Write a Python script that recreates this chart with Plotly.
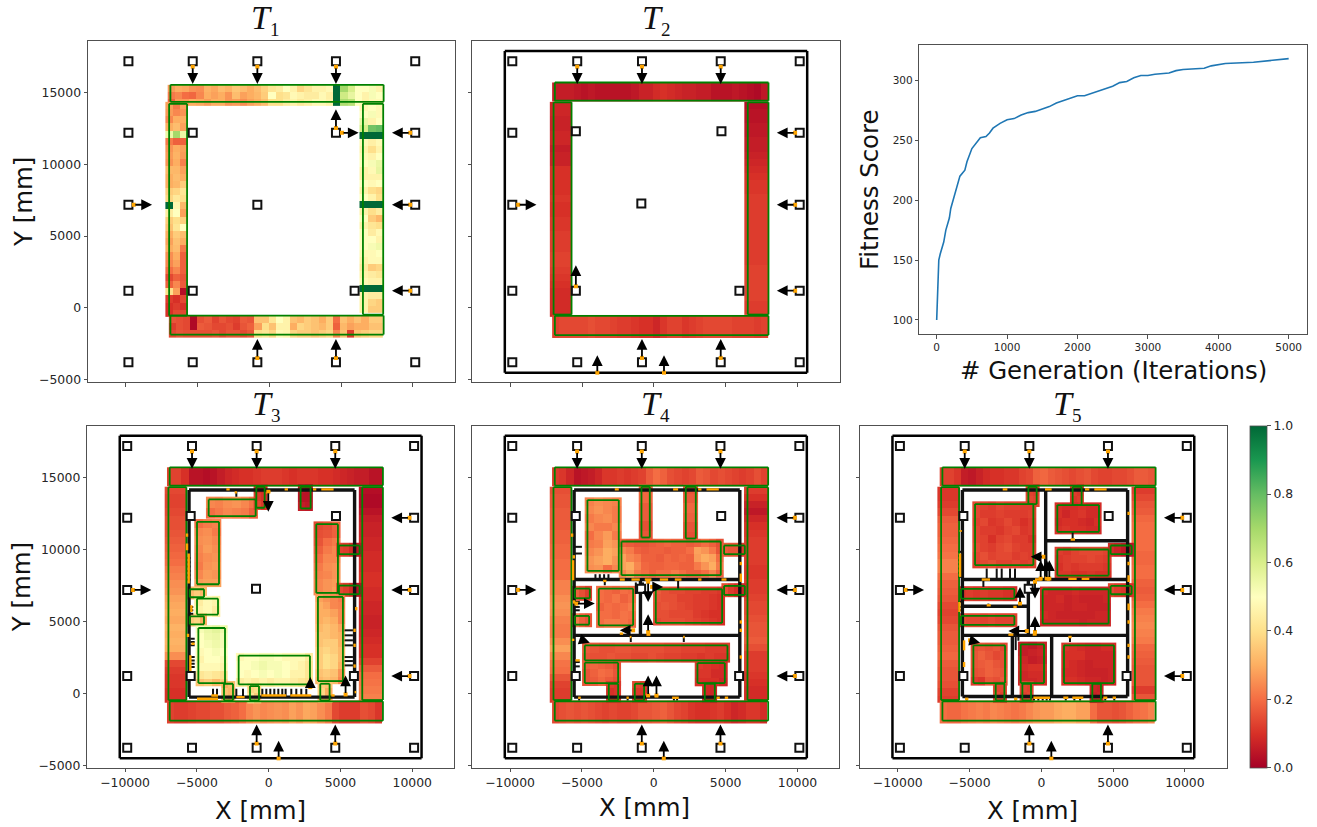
import plotly.graph_objects as go

# ---------- figure data (all positions in mm, values in percent of the colour range) ----------
W, H = 1317, 827
X_TICKS = [-10000, -5000, 0, 5000, 10000]
X_LABELS = ["\u221210000", "\u22125000", "0", "5000", "10000"]
Y_TICKS = [-5000, 0, 5000, 10000, 15000]
Y_LABELS = ["\u22125000", "0", "5000", "10000", "15000"]
FIT_XT = [0, 1000, 2000, 3000, 4000, 5000]
FIT_YT = [100, 150, 200, 250, 300]

GEN = [0, 10, 20, 30, 50, 100, 130, 180, 200, 250, 300, 330, 400, 430, 500, 550, 620, 700, 750, 800, 900, 1000,
       1100, 1200, 1300, 1400, 1500, 1600, 1700, 1800, 1900, 2000, 2100, 2200, 2300, 2400, 2500, 2600, 2700, 2800,
       2900, 3000, 3100, 3300, 3400, 3500, 3800, 3900, 4100, 4500, 4800, 5000]
FITNESS = [100, 125, 140, 150, 155, 165, 175, 185, 193, 203, 212, 220, 225, 232, 243, 247, 252, 253, 256, 260, 264, 267,
           268, 271, 273, 274, 276, 278, 281, 283, 285, 287, 287, 289, 291, 293, 295, 298, 299, 302,
           304, 304, 305, 306, 308, 309, 310, 312, 314, 315, 317, 318]

# T1 walls
T1_TOP = [[27,30,29,26,25,31,29,33,31,35,33,30,33,37,42,44,50,46,38,42,46,46,48,100,70,60,50,50,52,46],
          [22,24,20,19,24,30,28,30,26,33,28,30,32,36,50,40,42,48,46,44,44,48,45,100,62,56,50,46,52,50],
          [18,27,27,30,29,27,30,30,26,27,25,28,30,33,40,40,44,46,43,45,48,48,46,100,68,66,50,46,48,48]]
T1_LEFT = [[28,22,28],[27,24,26],[24,30,30],[30,33,28],[55,70,55],[22,18,18],[26,30,28],[27,31,27],[26,30,23],[32,32,28],
           [30,33,30],[30,32,36],[36,38,42],[38,43,40],[100,47,32],[44,50,28],[36,40,37],[34,42,50],[30,36,33],[28,34,30],
           [30,33,22],[25,30,18],[24,28,18],[20,24,18],[14,18,16],[18,24,17],[40,28,3],[12,10,14],[10,12,10],[10,14,14]]
T1_RIGHT = [[48,50,48],[50,52,48],[55,46,50],[60,78,80],[100,100,100],[48,45,48],[46,40,46],[48,46,50],[50,52,55],[46,48,56],
            [46,46,46],[50,48,50],[46,40,38],[50,46,40],[100,100,100],[46,40,44],[50,36,32],[46,42,40],[50,44,48],[50,50,46],
            [50,52,54],[48,48,50],[46,48,48],[44,36,38],[46,44,42],[48,46,46],[100,100,100],[46,44,44],[46,38,36],[46,36,36]]
T1_BOTTOM = [[16,15,14,2,15,17,13,16,14,13,17,16,34,34,42,50,46,34,32,36,34,30,36,20,34,30,34,30,36,36],
             [12,15,14,2,17,16,14,14,15,12,16,18,28,40,34,46,46,30,38,36,34,32,36,18,32,28,30,30,34,34],
             [14,16,15,15,15,15,16,14,16,16,14,16,40,42,38,48,47,38,36,36,34,36,38,24,34,12,34,36,38,38]]

# T2-T5 wall profiles along the wall
T2_TOP = [6,6,6,5,4,5,4,4,4,4,4,5,7,7,9,10,9,8,7,7,6,6,4,4,4,5,4,3,2,5]
T2_LEFT = [8,8,7,7,8,8,6,7,7,10,10,10,10,11,10,10,11,11,12,12,12,13,13,12,11,10,9,9,9,9]
T2_RIGHT = [3,4,4,5,5,6,6,7,8,9,10,11,11,12,12,12,12,12,12,12,12,12,12,13,13,13,13,13,12,12]
T2_BOTTOM = [13,14,14,14,14,15,14,14,13,12,12,11,10,10,8,11,13,13,11,12,13,14,14,14,14,13,13,13,12,13]
T3_TOP = [13,13,10,4,4,3,4,6,8,9,10,10,11,12,12,12,11,10,11,11,11,10,10,9,8,7,6,6,4,4]
T3_LEFT = [14,13,13,14,15,15,16,17,18,19,20,22,23,25,26,28,29,30,29,31,30,31,30,25,14,12,11,11,10,10]
T3_RIGHT = [3,2,2,4,6,7,7,8,8,9,9,9,10,10,9,9,8,8,7,7,8,9,10,10,13,17,20,21,22,23]
T3_BOTTOM = [13,12,12,13,14,14,15,15,17,18,20,24,26,24,25,26,25,28,26,29,28,25,22,14,12,12,12,15,14,11]
T4_TOP = [12,11,8,4,5,6,8,11,11,12,11,12,13,17,20,18,15,14,13,14,17,16,14,15,14,13,12,13,15,13]
T4_LEFT = [15,16,16,17,17,17,18,18,19,19,20,20,20,23,23,25,26,25,23,22,22,25,28,24,21,20,16,13,12,12]
T4_RIGHT = [12,10,7,5,8,10,11,12,12,12,12,11,11,12,12,13,14,14,15,16,16,17,15,12,12,12,11,10,9,9]
T4_BOTTOM = [14,15,16,15,16,15,14,13,14,13,13,14,16,16,17,18,16,14,13,11,10,10,11,12,10,8,9,11,11,9]
T5_TOP = [13,13,11,6,5,7,9,10,10,11,11,13,14,18,19,17,16,15,14,15,16,14,13,13,14,14,15,17,17,16]
T5_LEFT = [11,11,12,14,17,18,18,19,20,21,23,23,20,18,17,16,14,13,14,16,17,17,18,19,17,16,16,15,13,12]
T5_RIGHT = [12,14,16,17,19,20,20,20,20,19,19,20,20,18,17,18,20,22,23,24,23,22,19,18,17,16,16,16,12,16]
T5_BOTTOM = [20,19,19,21,22,23,22,24,23,22,21,22,24,26,27,27,29,30,30,28,28,20,16,16,15,16,18,20,21,23]

# green rectangles: top, left, right, bottom walls  [x1, x2, y1, y2]
T1_WALLS = [[-6890,7960,14350,15534],[-6980,-5730,-544,14211],[6520,7930,-474,14211],[-6890,7960,-1866,-544]]
WALLS = [[-6890,7960,14430,15700],[-6980,-5730,-470,14320],[6520,7960,-470,14320],[-6890,7960,-1900,-560]]
# coloured extents of the same walls
T1_HEAT = [[-7080,7960,14070,15534],[-7240,-5730,-640,14350],[6280,7930,-380,14211],[-7000,7911,-2100,-544]]
HEAT = [[-7080,7960,14400,15700],[-7240,-5730,-640,14350],[6280,7960,-500,14350],[-7080,7911,-2100,-500]]

T3_RECTS = [[-4176,-905,12309,13469],[-858,-278,12889,14350],[2227,2923,12842,14350],[-4988,-3457,7576,11914],
            [3318,4826,6973,11752],[4895,6334,9664,10267],[4895,6334,6880,7483],[-5498,-4501,6671,7228],
            [-4988,-3526,5465,6578],[-5498,-4501,4792,5349],[-4895,-3039,709,4537],[-2088,2877,616,2611],
            [3434,5174,848,6694],[-3109,-2482,-498,662],[-1299,-673,-498,500],[3596,4246,-498,662]]
T3_VALUES = [[[24,23,25,26,24,21],[20,22,24,23,22,18]],
             [[10,9],[12,10],[14,11]],
             [[5,4],[4,4],[6,5]],
             [[20,22,23],[24,25,22],[25,26,24],[24,27,25],[23,25,26],[22,26,27],[24,27,26],[27,28,28]],
             [[14,15,18],[15,16,18],[16,20,22],[18,22,24],[20,24,24],[22,25,26],[23,24,26],[24,26,27],[24,26,28]],
             [[13,12,9,4]],
             [[14,12,9,3]],
             [[33,36,32]],
             [[44,48,46],[46,48,44]],
             [[36,38,30]],
             [[52,55,57,54],[50,54,55,52],[50,52,54,52],[48,50,52,50],[46,50,50,48],[48,48,48,46],[42,44,42,40],[34,36,32,36]],
             [[48,50,50,52,52,50,48,48,48,44],[50,50,52,54,52,52,50,48,46,42],[50,48,50,52,50,52,50,46,46,42],[44,46,44,46,44,46,46,44,42,40]],
             [[28,26,24,22],[30,28,24,23],[30,30,28,24],[30,32,30,24],[32,34,32,28],[34,34,32,30],[34,36,36,30],[36,38,36,32],[36,40,38,32],[36,40,38,30],[34,36,34,26],[32,34,32,24]],
             [[30,33],[34,32],[30,28]],
             [[38,40],[42,36]],
             [[36,34],[38,30],[32,30]]]

T4_RECTS = [[-858,-278,10824,14350],[2227,2923,10754,14350],[-4617,-2436,8504,13422],[-2250,4663,8202,10546],
            [4895,6334,9664,10267],[4895,6334,6834,7460],[-5498,-4454,6602,7274],[-5498,-4501,4769,5372],
            [-3828,-1438,4722,7274],[139,4756,4885,7228],[-4802,5127,2286,3330],[-4802,-2482,709,2124],
            [3039,4942,709,2101],[-3132,-2482,-498,662],[-1322,-673,-498,662],[3550,4246,-498,662]]
T4_VALUES = [[[18],[19],[17],[17],[15],[16]],
             [[16],[17],[19],[18],[16],[15]],
             [[23,25,24,23],[24,26,24,22],[22,24,25,22],[24,22,22,24],[20,24,27,22],[22,23,28,26],[24,26,30,28],[26,28,30,26],[25,26,20,24]],
             [[18,17,16,16,17,18,19,18,18,17,18,20,18,15],[24,22,18,17,18,18,17,18,18,20,28,26,22,16],[28,24,22,18,18,17,19,18,19,18,27,30,28,20],[28,30,24,19,18,18,19,19,18,18,22,26,30,22],[24,28,22,20,18,20,20,22,20,18,18,20,24,18]],
             [[17,16,16,12]],
             [[15,12,10,8]],
             [[18,15,12]],
             [[22,18,16]],
             [[20,19,18,20,19],[20,19,21,18,20],[18,20,19,20,22],[20,20,19,21,20],[20,22,22,21,19]],
             [[17,15,14,14,13,13,12,12,11],[16,15,15,13,13,12,12,11,10],[15,16,15,14,13,12,12,11,10],[15,15,14,14,14,12,11,10,10],[14,15,15,15,14,13,12,11,10]],
             [[17,16,15,15,16,16,15,15,15,15,14,14,13,13,13,12,12,12],[16,15,15,16,15,15,14,14,15,14,13,13,12,12,11,12,11,11]],
             [[18,19,18,17,15],[16,18,20,19,16],[16,17,19,17,15]],
             [[12,11,10,9],[11,11,9,9],[10,10,10,8]],
             [[12,11],[10,11],[10,10]],
             [[14,12],[12,11],[11,10]],
             [[9,8],[9,8],[8,7]]]

T5_RECTS = [[-905,-325,13144,14350],[2181,2807,13074,14350],[-4617,-557,8898,13144],[1114,4014,11218,13074],
            [1114,4686,8179,9989],[4826,6287,9664,10267],[4826,6287,6880,7460],[93,4686,4838,7228],
            [-5591,-1879,6578,7251],[-5591,-1879,4746,5372],[-4733,-2529,709,3330],[-1438,186,709,3400],
            [1578,5058,709,3330],[-3178,-2575,-498,662],[-1322,-719,-498,662],[3550,4153,-498,662]]
T5_VALUES = [[[13,12],[14,13]],
             [[12,11],[11,12]],
             [[14,13,12,14,13,13,12,12],[14,12,12,13,12,12,12,13],[13,14,11,12,14,12,10,12],[14,12,12,11,13,14,11,12],[14,13,10,13,14,12,12,10],[15,13,12,14,15,13,12,12],[14,15,13,14,14,12,13,12],[13,14,15,13,13,14,12,13]],
             [[10,9,9,10,9,9],[10,8,10,11,9,9],[9,10,10,9,8,10],[10,11,10,10,9,9]],
             [[12,11,13,14,14,14,13],[11,12,13,13,14,13,12],[10,12,11,12,12,12,11],[11,11,10,10,11,10,10]],
             [[9,7,5,4]],
             [[14,12,11,10]],
             [[9,8,8,8,9,8,8,8,8],[8,8,9,7,8,7,7,7,8],[8,8,8,7,8,8,7,7,7],[9,8,7,7,7,7,7,8,8],[8,8,8,8,8,7,8,8,8]],
             [[11,12,11,12,11,11,10,9]],
             [[15,14,14,13,14,13,13,13]],
             [[15,16,15,16,14],[16,18,16,14,15],[16,17,18,16,15],[15,16,18,17,16],[12,11,16,15,17]],
             [[6,5,7],[6,7,8],[8,6,7],[9,10,10],[8,9,9],[8,8,9]],
             [[11,10,9,8,8,9,9],[10,10,10,8,8,8,8],[10,9,8,7,8,8,8],[9,9,8,7,7,7,8],[10,10,9,8,8,7,8]],
             [[14,14],[15,13]],
             [[14,13],[13,14]],
             [[8,7],[7,8]]]

# pins
T1_PIN_X = [-9814,-5336,-835,4640,10160, -9814,-5336,4640,10160, -9814,-835,10160, -9814,-5336,5939,10160, -9814,-5336,-835,4640,10160]
T1_PIN_Y = [17180]*5 + [12193]*4 + [7182]*3 + [1196]*4 + [-3792]*5
PIN_X = [-9850,-5336,-835,4640,10130, -9850,-5430,4690,10130, -9850,-880,10130, -9850,-5430,5939,10130, -9850,-5336,-835,4640,10130]
PIN_Y = [17180]*5 + [12193,12310,12310,12193] + [7182,7260,7182] + [1196]*4 + [-3792]*5

OUTER_BOX = [-10370,10650,-4520,17890]

# arrows [tail x, tail y, head x, head y]
EDGE_ARROWS = [[-5336,16800,-5336,15600],[-835,16800,-835,15600],[4640,16800,4640,15600],
               [-9440,7182,-8170,7182],[9810,12193,8540,12193],[9810,7182,8540,7182],[9810,1196,8540,1196],
               [-835,-3490,-835,-2170],[4640,-3490,4640,-2170]]
T1_ARROWS = [[4640,12520,4640,13840],[5060,12193,6220,12193]]
T2_ARROWS = [[-5430,1500,-5430,2960],[-3940,-4520,-3940,-3300],[696,-4520,696,-3300]]
T3_ARROWS = [[696,-4520,696,-3300],[-23,14002,-23,12610],[2900,430,2900,1126],[5359,-80,5359,1242]]
T4_ARROWS = [[696,-4520,696,-3300],[-394,7738,-394,6346],[-116,7390,650,7390],[-394,4258,-394,5488],
             [-1438,4374,-2366,4374],[-5382,6230,-4106,6230],[-394,-150,-394,1242],[186,-150,186,1242],
             [-4918,3678,-4454,3516]]
T5_ARROWS = [[696,-4520,696,-3300],[-46,7970,-46,9246],[371,7970,371,9246],[557,7970,557,9246],
             [-1485,6230,-1485,7390],[-441,7738,-441,6578],[-441,4258,-441,5349],[-1021,4328,-2297,4328],
             [139,9478,-742,9478],[-4965,3678,-4269,3516]]

# thick black nets [x1, y1, x2, y2]
T3_NET = [[-5545,14118,5986,14118],[5986,14118,5986,-266],[5986,-266,-5545,-266],[-5545,-266,-5545,14118]]
T4_NET = T3_NET + [[-5545,7901,5986,7901],[-5545,4026,5986,4026],[-928,7901,-928,4026]]
T5_NET = [[-5498,14118,6009,14118],[6009,14118,6009,-219],[6009,-219,-5498,-219],[-5498,-219,-5498,14118],
          [-5498,7901,6009,7901],[-5498,4026,6009,4026],[-5498,6045,-905,6045],[302,10592,6009,10592],
          [-905,7901,-905,4026],[302,14118,302,7901],[-2018,4026,-2018,-219],[719,4026,719,-219]]

# thin black stubs
T3_STUBS = [[-2250,14000,-2250,13650]] + \
    [[v,314,v,-266] for v in [-3874,-3596,-2250,-1786,-441,-162,116,394,673,951,1183,1578,1926,2274,2622]] + \
    [[5290,v,5870,v] for v in [4374,4026,3678,3330,2518,2240,1938]] + \
    [[-5452,v,-5150,v] for v in [3794,3562,3330,2518,2286,2054,1822]] + \
    [[-5545,v,-5250,v] for v in [5998,5766,5534]] + \
    [[-5680,v,-5450,v] for v in [9400,9100,8800,8500,8200,7900]]
T4_STUBS = [[-3410,7901,-3410,7506],[1694,7901,1694,7228],[-1601,4026,-1601,3562],[2088,4026,2088,3562],
            [-1250,7700,-1250,6900],[-750,7700,-750,6900],[-1250,7000,-750,7000],
            [-5197,-266,-5197,-500],[-1820,-266,-1820,-500],[1400,-266,1400,-500],[1620,-266,1620,-500]] + \
    [[v,8272,v,7901] for v in [-4060,-3758,-3457,-3155]] + \
    [[-5545,v,-5000,v] for v in [10174,9710]] + \
    [[-5545,v,-5150,v] for v in [2170,1869,6346,5998,5766]]
T5_STUBS = [[2181,11218,2181,10592],[1995,4026,1995,3562],[-4037,7901,-4037,7390],[-3689,6230,-3689,6045],
            [-1600,4026,-1600,3650],[-1786,4026,-1786,3000]] + \
    [[-5800,v,-5498,v] for v in [9826,9548,9246,8968,8666,8366,8086,6346,5998,5766]] + \
    [[v,8666,v,7970] for v in [-3805,-3109,-2761,-2181,-1833]] + \
    [[v,-219,v,-500] for v in [-510,-209,93,371,603,-5197,-1800,1700,2300,2700,4450,5080]]

# orange net pieces
T3_ORANGE = [[-2946,14165,-2714,14165],[-46,14002,116,14002],[1114,14165,1346,14165],[3086,14165,3318,14165],
             [3666,14165,4524,14165],[-2366,13956,-2204,13956],[-5684,11102,-5684,10870],[-5684,10406,-5684,9942],
             [-5568,9710,-5568,7622],[-5382,6114,-5382,5650],[-5614,4142,-5614,3910],[-5382,3446,-5150,3446],
             [-5452,2634,-5452,1474],[6102,5998,6102,5766],[5986,4490,5986,4258],[5986,3446,5986,3214],
             [5986,2008,5986,1776],[5986,82,6102,82],[-4988,-382,-3526,-382],[-3990,-150,-3526,-150],
             [-2250,-266,-1670,-266],[-510,-150,1230,-150],[1508,-150,2970,-150],[4362,-150,4594,-150]]
T4_ORANGE = [[-2714,14165,-2436,14165],[1346,14165,1694,14165],[3086,14165,3318,14165],[3666,14165,4524,14165],
             [-5684,11102,-5684,10870],[-5568,9594,-5568,9362],[-5614,9246,-5614,7854],[-5545,6462,-5545,6230],
             [-5614,3794,-5614,3632],[-5452,2286,-5150,2286],[6055,9130,6055,8898],[6055,8318,6055,7738],
             [6055,5070,6055,4838],[6055,4490,6055,4258],[6055,2634,6055,2402],
             [-2366,7901,-2018,7901],[-1554,7901,-974,7901],[-626,7901,-162,7901],[418,7901,998,7901],[1462,7901,1926,7901],
             [3086,7901,3318,7901],[4710,7901,5058,7901],[-3526,7808,-3294,7808],[-2366,4142,-2134,4142],
             [-510,4073,-232,4073],[-1670,3910,-1554,3910],[2042,3910,2158,3910],
             [-5266,-312,-5081,-312],[-1902,-312,-1740,-312],[1276,-312,1740,-312],[4362,-312,4594,-312],[4942,-312,5174,-312],
             [-510,-150,-278,-150],[70,-196,302,-196]]
T5_ORANGE = [[-2691,14165,-2366,14165],[255,14165,719,14165],[3039,14165,3341,14165],[3689,14165,4547,14165],
             [-5614,11334,-5614,11218],[-5661,9710,-5661,8086],[-5707,6346,-5707,5650],[-5382,3678,-5382,2982],
             [-5382,2170,-5382,1822],[6078,12610,6078,12378],[6078,9130,6078,8898],[6078,8202,6078,7738],
             [6078,6230,6078,5766],[6078,5070,6078,4838],[6078,3446,6078,3214],[6078,2634,6078,2402],
             [-4153,7901,-3573,7901],[-441,7901,23,7901],[371,7901,603,7901],[1879,7947,2459,7947],[2807,7947,3341,7947],
             [-1949,5998,-1717,5998],[-3805,6114,-3526,6114],[-2297,4073,-1949,4073],[-1137,4328,-905,4328],
             [-603,4073,-325,4073],[1879,3910,2111,3910],[2042,10685,2343,10685],
             [-5313,-382,-5081,-382],[-1902,-382,-1670,-382],[-557,-312,603,-312],[1531,-312,1879,-312],
             [2158,-312,2923,-312],[4315,-312,4594,-312],[4965,-312,5197,-312]]

# ---------- layout constants ----------
XR = [-12630, 12910]
YR = [-5170, 18590]
BOX = {"T1": (88, 454.7, 41, 382), "T2": (472.3, 839.7, 41, 382), "FIT": (919.3, 1306.7, 45, 334),
       "T3": (87.3, 454, 425.7, 767.7), "T4": (472.3, 839.3, 425.7, 767.7), "T5": (860, 1226.7, 425.7, 767.7)}
AXIS_NO = {"T1": "", "T2": "2", "FIT": "3", "T3": "4", "T4": "5", "T5": "6"}
GREEN, ORANGE, BLACK = "#008000", "#ffa500", "#000000"
TEXT = "#262626"
AXC = "#505050"
PAD = 190

fig = go.Figure()


def refs(p):
    return "x" + AXIS_NO[p], "y" + AXIS_NO[p]


def heat(p, box, z):
    x1, x2, y1, y2 = box
    dx, dy = (x2 - x1) / len(z[0]), (y2 - y1) / len(z)
    xa, ya = refs(p)
    fig.add_trace(go.Heatmap(z=[[v / 100 for v in r] for r in z[::-1]], x0=x1 + dx / 2, dx=dx, y0=y1 + dy / 2, dy=dy,
                             coloraxis="coloraxis", xaxis=xa, yaxis=ya, hoverinfo="skip", zsmooth=False))


def segs(p, items, color, width):
    xs, ys = [], []
    for a, b, c, d in items:
        xs += [a, c, None]
        ys += [b, d, None]
    xa, ya = refs(p)
    fig.add_trace(go.Scatter(x=xs, y=ys, mode="lines", line=dict(color=color, width=width), xaxis=xa, yaxis=ya,
                             hoverinfo="skip", showlegend=False))


def outlines(p, rects, color, width):
    items = []
    for x1, x2, y1, y2 in rects:
        items += [[x1, y1, x2, y1], [x2, y1, x2, y2], [x2, y2, x1, y2], [x1, y2, x1, y1]]
    segs(p, items, color, width)


def arrows(p, items):
    xa, ya = refs(p)
    xs = [a[0] for a in items]
    ys = [a[1] for a in items]
    fig.add_trace(go.Scatter(x=xs, y=ys, mode="markers", marker=dict(symbol="square", size=4, color=ORANGE),
                             xaxis=xa, yaxis=ya, hoverinfo="skip", showlegend=False))
    for a, b, c, d in items:
        fig.add_annotation(x=c, y=d, ax=a, ay=b, xref=xa, yref=ya, axref=xa, ayref=ya, text="", showarrow=True,
                           arrowhead=2, arrowsize=1.2, arrowwidth=1.8, arrowcolor=BLACK, standoff=0, startstandoff=0)


def wall_z(profile, horizontal):
    return [profile] if horizontal else [[v] for v in profile]


def panel(p, walls, heat_boxes, wall_vals, rects=(), values=(), net=(), stubs=(), orange=(), pins=None, outer=True, extra=()):
    if outer:
        outlines(p, [OUTER_BOX], BLACK, 2.5)
    if net:
        segs(p, net, "#111111", 3.4)
    if stubs:
        segs(p, stubs, "#111111", 2)
    for b, z in zip(heat_boxes, wall_vals):
        heat(p, b, z)
    for r, z in zip(rects, values):
        heat(p, [r[0] - PAD, r[1] + PAD, r[2] - PAD, r[3] + PAD], z)
    outlines(p, list(walls) + list(rects), GREEN, 1.8)
    if orange:
        segs(p, orange, ORANGE, 2.4)
    xa, ya = refs(p)
    fig.add_trace(go.Scatter(x=pins[0], y=pins[1], mode="markers", xaxis=xa, yaxis=ya, hoverinfo="skip", showlegend=False,
                             marker=dict(symbol="square", size=8, color="white", line=dict(color="#111111", width=2))))
    arrows(p, list(EDGE_ARROWS) + list(extra))


panel("T1", T1_WALLS, T1_HEAT, [T1_TOP, T1_LEFT, T1_RIGHT, T1_BOTTOM], pins=(T1_PIN_X, T1_PIN_Y), outer=False, extra=T1_ARROWS)
panel("T2", WALLS, HEAT, [wall_z(T2_TOP, True), wall_z(T2_LEFT, False), wall_z(T2_RIGHT, False), wall_z(T2_BOTTOM, True)],
      pins=(PIN_X, PIN_Y), extra=T2_ARROWS)
panel("T3", WALLS, HEAT, [wall_z(T3_TOP, True), wall_z(T3_LEFT, False), wall_z(T3_RIGHT, False), wall_z(T3_BOTTOM, True)],
      T3_RECTS, T3_VALUES, T3_NET, T3_STUBS, T3_ORANGE, (PIN_X, PIN_Y), extra=T3_ARROWS)
panel("T4", WALLS, HEAT, [wall_z(T4_TOP, True), wall_z(T4_LEFT, False), wall_z(T4_RIGHT, False), wall_z(T4_BOTTOM, True)],
      T4_RECTS, T4_VALUES, T4_NET, T4_STUBS, T4_ORANGE, (PIN_X, PIN_Y), extra=T4_ARROWS)
panel("T5", WALLS, HEAT, [wall_z(T5_TOP, True), wall_z(T5_LEFT, False), wall_z(T5_RIGHT, False), wall_z(T5_BOTTOM, True)],
      T5_RECTS, T5_VALUES, T5_NET, T5_STUBS, T5_ORANGE, (PIN_X, PIN_Y), extra=T5_ARROWS)

fig.add_trace(go.Scatter(x=GEN, y=FITNESS, mode="lines", line=dict(color="#1f77b4", width=1.6),
                         xaxis="x3", yaxis="y3", hoverinfo="skip", showlegend=False))

layout = dict(width=W, height=H, margin=dict(l=0, r=0, t=0, b=0, autoexpand=False), autosize=False,
              paper_bgcolor="white", plot_bgcolor="white",
              showlegend=False, font=dict(family="DejaVu Sans", color=TEXT),
              coloraxis=dict(colorscale="RdYlGn", cmin=0, cmax=1,
                             colorbar=dict(x=1250 / W, xanchor="left", y=1 - 767.7 / H, yanchor="bottom", len=341.7 / H,
                                           lenmode="fraction", thickness=17.3, thicknessmode="pixels",
                                           tickvals=[0, 0.2, 0.4, 0.6, 0.8, 1.0], ticktext=["0.0", "0.2", "0.4", "0.6", "0.8", "1.0"],
                                           ticks="outside", ticklen=4, tickwidth=0.8, tickcolor=AXC,
                                           tickfont=dict(size=12.4, color=TEXT), outlinewidth=0.8, outlinecolor=AXC, xpad=0, ypad=0)))


def axis(p, letter, **kw):
    x1, x2, y1, y2 = BOX[p]
    dom = [x1 / W, x2 / W] if letter == "x" else [1 - y2 / H, 1 - y1 / H]
    d = dict(domain=dom, anchor=("y" if letter == "x" else "x") + AXIS_NO[p], showgrid=False, zeroline=False, showline=True,
             linecolor=AXC, linewidth=1, mirror=True, ticks="outside", ticklen=3.5, tickwidth=0.8, tickcolor=AXC,
             tickfont=dict(size=12.4, color=TEXT))
    d.update(kw)
    layout[letter + "axis" + AXIS_NO[p]] = d


for p in ["T1", "T2", "T3", "T4", "T5"]:
    axis(p, "x", range=XR, tickvals=X_TICKS, ticktext=X_LABELS, showticklabels=p in ("T3", "T4", "T5"))
    axis(p, "y", range=YR, tickvals=Y_TICKS, ticktext=Y_LABELS, showticklabels=p in ("T1", "T3"))

axis("FIT", "x", range=[-247, 5256], tickvals=FIT_XT, tickfont=dict(size=10.5, color=TEXT))
axis("FIT", "y", range=[88.3, 329.4], tickvals=FIT_YT, tickfont=dict(size=10.5, color=TEXT))

fig.update_layout(**layout)

LABEL = dict(family="DejaVu Sans", size=24.4, color="#111111")
LABELS = [("X [mm]", 260.8, 810, 0), ("X [mm]", 644, 807.5, 0), ("X [mm]", 1032, 810, 0), ("Y [mm]", 23, 202, -90),
          ("Y [mm]", 21.7, 587.5, -90), ("# Generation (Iterations)", 1113, 370, 0), ("Fitness Score", 870, 190, -90)]
for text, px, py, angle in LABELS:
    fig.add_annotation(x=px / W, y=1 - py / H, xref="paper", yref="paper", text=text, showarrow=False, font=LABEL,
                       textangle=angle, xanchor="center", yanchor="middle")

TITLE_FONT = dict(family="Liberation Serif", size=34, color="#111111")
TITLES = [("T", "1", 265, 20), ("T", "2", 655.7, 20), ("T", "3", 265.7, 405), ("T", "4", 655, 405), ("T", "5", 1066.7, 405)]
for t, n, px, py in TITLES:
    fig.add_annotation(x=px / W, y=1 - py / H, xref="paper", yref="paper",
                       text=f'<i>{t}</i><sub><span style="font-size:19px">{n}</span></sub>', showarrow=False,
                       font=TITLE_FONT, xanchor="center", yanchor="middle")

fig.write_html("out.html", post_script="document.body.style.margin='0';", config=dict(displayModeBar=False))
